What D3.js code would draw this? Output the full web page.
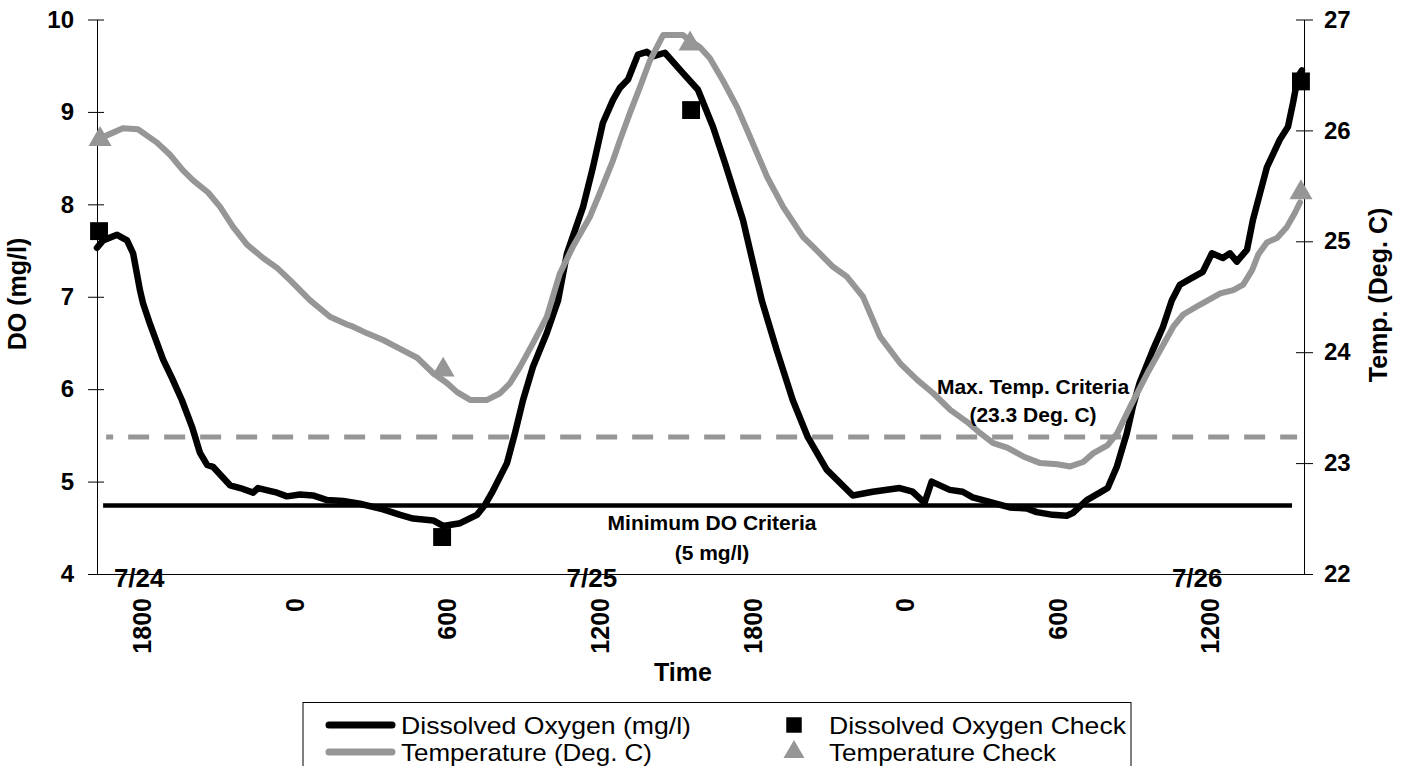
<!DOCTYPE html>
<html><head><meta charset="utf-8">
<script src="https://cdn.jsdelivr.net/npm/d3@7"></script>
<style>
body{margin:0;background:#fff}
svg{display:block}
text{font-family:"Liberation Sans",Arial,Helvetica,sans-serif}
</style>
</head><body>
<svg id="chart" width="1408" height="766"></svg>
<script>
// ---- data (hours since 7/24 00:00) ----
const doHours = [16.24,16.48,17.03,17.42,17.66,17.93,18.05,18.33,18.84,19.19,19.58,19.98,20.29,20.57,20.80,21.47,21.87,22.38,22.57,23.32,23.71,24.22,24.73,25.29,25.92,26.58,27.49,28.16,28.67,29.46,29.85,30.52,31.18,31.50,31.77,32.36,32.68,32.99,33.38,33.93,34.37,34.72,35.35,35.74,36.13,36.53,36.80,37.12,37.51,37.86,38.10,38.57,39.28,39.87,40.46,40.93,41.64,42.38,42.97,43.60,44.19,44.93,45.96,46.74,47.80,48.31,48.78,49.06,49.77,50.28,50.67,51.34,52.13,52.80,53.19,53.82,54.37,54.61,55.16,55.67,55.98,56.34,56.73,56.97,57.24,57.75,58.15,58.50,58.82,59.33,59.72,60.08,60.51,60.79,61.06,61.46,61.69,61.97,62.24,62.75,63.07,63.27,63.46,63.62];
const doValues = [7.53,7.61,7.67,7.61,7.47,7.07,6.93,6.70,6.32,6.12,5.88,5.59,5.31,5.18,5.16,4.96,4.93,4.88,4.93,4.88,4.84,4.86,4.85,4.80,4.79,4.76,4.70,4.64,4.60,4.58,4.52,4.55,4.64,4.75,4.88,5.20,5.53,5.88,6.24,6.61,6.96,7.47,7.97,8.40,8.88,9.13,9.26,9.35,9.62,9.65,9.60,9.64,9.42,9.24,8.84,8.45,7.83,6.96,6.42,5.88,5.48,5.13,4.85,4.89,4.93,4.89,4.77,5.00,4.91,4.89,4.83,4.78,4.72,4.71,4.67,4.64,4.63,4.66,4.80,4.88,4.93,5.16,5.52,5.81,6.07,6.42,6.67,6.96,7.13,7.21,7.27,7.47,7.42,7.47,7.38,7.51,7.83,8.12,8.40,8.70,8.84,9.10,9.38,9.45];
const tempHours = [16.36,16.87,17.26,17.85,18.60,19.11,19.62,20.02,20.61,21.08,21.59,22.14,22.77,23.32,23.83,24.61,25.40,26.07,26.31,26.86,27.49,28.16,28.83,29.46,30.01,30.40,30.91,31.58,32.09,32.48,32.88,33.38,33.93,34.44,34.95,35.62,36.02,36.53,36.80,37.20,37.59,37.98,38.50,39.28,39.56,39.95,40.34,40.85,41.41,41.92,42.59,43.22,44.00,44.40,45.18,45.73,46.36,47.03,47.82,48.49,49.12,49.79,50.46,50.97,51.48,52.03,52.66,53.33,54.00,54.51,55.02,55.42,55.97,56.36,56.87,57.54,58.05,58.56,58.95,59.62,60.41,60.92,61.31,61.66,61.90,62.24,62.64,63.03,63.35,63.54];
const tempValues = [25.93,25.98,26.02,26.01,25.89,25.78,25.64,25.55,25.44,25.31,25.13,24.97,24.85,24.76,24.65,24.47,24.32,24.25,24.23,24.17,24.11,24.03,23.95,23.81,23.72,23.64,23.57,23.57,23.63,23.72,23.87,24.08,24.32,24.71,24.95,25.22,25.44,25.73,25.91,26.16,26.39,26.63,26.86,26.86,26.81,26.75,26.65,26.45,26.21,25.94,25.58,25.31,25.04,24.95,24.77,24.68,24.50,24.14,23.90,23.75,23.63,23.48,23.37,23.27,23.18,23.14,23.06,23.00,22.99,22.97,23.01,23.09,23.16,23.27,23.51,23.81,24.02,24.23,24.34,24.43,24.53,24.56,24.61,24.74,24.88,24.99,25.03,25.13,25.26,25.35];
const doCheckHours = [16.32,29.81,39.60,63.58];
const doCheckValues = [7.71,4.40,9.02,9.33];
const tempCheckHours = [16.36,29.85,39.56,63.58];
const tempCheckValues = [25.92,23.84,26.78,25.44];
const doTicks = [4,5,6,7,8,9,10];
const tempTicks = [22,23,24,25,26,27];
const timeTickHours = [18,24,30,36,42,48,54,60];
const timeTickLabels = ["1800","0","600","1200","1800","0","600","1200"];
const dateHours = [17.9,35.7,59.5];
const dateLabels = ["7/24","7/25","7/26"];
const minDOLevel = 4.74;
const minDOHours = [16.48,63.23];
const maxTempLevel = 23.235;
const maxTempHours = [16.6,63.43];
const legendLabels = ["Dissolved Oxygen (mg/l)","Temperature (Deg. C)","Dissolved Oxygen Check","Temperature Check"];

// ---- layout ----
const svg = d3.select("#chart");
const L = 97, R = 1304, T = 19.5, B = 574;
const BLACK = "#000", GRAY = "#969696";
const FONT = '"Liberation Sans",Arial,sans-serif';

const x = d3.scaleLinear().domain([16.24, 63.70]).range([L, R]);
const yDO = d3.scaleLinear().domain([4, 10]).range([B, T]);
const yT = d3.scaleLinear().domain([22, 27]).range([B, T]);

// left axis
const gl = svg.append("g").attr("transform", `translate(${L},0)`)
  .call(d3.axisLeft(yDO).tickValues(doTicks).tickSizeInner(9).tickSizeOuter(0).tickPadding(14).tickFormat(d3.format("d")));
gl.selectAll(".tick").append("line").attr("x2", 7).attr("stroke", BLACK);
// right axis
const gr = svg.append("g").attr("transform", `translate(${R},0)`)
  .call(d3.axisRight(yT).tickValues(tempTicks).tickSizeInner(9).tickSizeOuter(0).tickPadding(11).tickFormat(d3.format("d")));
gr.selectAll(".tick").append("line").attr("x2", -8).attr("stroke", BLACK);
[gl, gr].forEach(g => {
  g.selectAll("path.domain").attr("stroke", BLACK).attr("stroke-width", 1);
  g.selectAll("text").attr("font-size", 24).attr("font-weight", "bold").attr("fill", BLACK)
   .attr("font-family", FONT);
});

// bottom axis
const gb = svg.append("g").attr("transform", `translate(0,${B})`)
  .call(d3.axisBottom(x).tickValues(timeTickHours).tickSize(0).tickFormat((d, i) => timeTickLabels[i]));
gb.select("path.domain").attr("stroke", BLACK).attr("stroke-width", 1);
gb.selectAll(".tick text")
  .attr("font-size", 25).attr("font-weight", "bold").attr("fill", BLACK)
  .attr("font-family", FONT)
  .attr("text-anchor", "end").attr("transform", "rotate(-90)")
  .attr("x", -24).attr("y", 0).attr("dy", "0.36em");

// date labels
svg.append("g").selectAll("text").data(dateLabels).join("text")
  .attr("x", (d, i) => x(dateHours[i])).attr("y", 587)
  .attr("text-anchor", "middle").attr("font-size", 26).attr("font-weight", "bold").text(d => d);

// axis titles
svg.append("text").attr("transform", `translate(26,294) rotate(-90)`).attr("text-anchor", "middle")
  .attr("font-size", 25).attr("font-weight", "bold").text("DO (mg/l)");
svg.append("text").attr("transform", `translate(1387,295) rotate(-90)`).attr("text-anchor", "middle")
  .attr("font-size", 25).attr("font-weight", "bold").text("Temp. (Deg. C)");
svg.append("text").attr("x", 683).attr("y", 681).attr("text-anchor", "middle")
  .attr("font-size", 25).attr("font-weight", "bold").text("Time");

// criteria lines
svg.append("line")
  .attr("x1", x(minDOHours[0])).attr("x2", x(minDOHours[1]))
  .attr("y1", yDO(minDOLevel)).attr("y2", yDO(minDOLevel))
  .attr("stroke", BLACK).attr("stroke-width", 4.5);
svg.append("line")
  .attr("x1", x(maxTempHours[0])).attr("x2", x(maxTempHours[1]))
  .attr("y1", yT(maxTempLevel)).attr("y2", yT(maxTempLevel))
  .attr("stroke", GRAY).attr("stroke-width", 5)
  .attr("stroke-dasharray", "21,15").attr("stroke-dashoffset", 14);

// series lines
const doData = doHours.map((h, i) => [h, doValues[i]]);
const tData = tempHours.map((h, i) => [h, tempValues[i]]);
svg.append("path").datum(doData)
  .attr("d", d3.line().x(d => x(d[0])).y(d => yDO(d[1])))
  .attr("fill", "none").attr("stroke", BLACK).attr("stroke-width", 6.5)
  .attr("stroke-linejoin", "round").attr("stroke-linecap", "round");
svg.append("path").datum(tData)
  .attr("d", d3.line().x(d => x(d[0])).y(d => yT(d[1])))
  .attr("fill", "none").attr("stroke", GRAY).attr("stroke-width", 6)
  .attr("stroke-linejoin", "round").attr("stroke-linecap", "round");

// check markers
const sq = d3.symbol().type(d3.symbolSquare).size(320);
const tri = d3.symbol().type(d3.symbolTriangle).size(230);
svg.append("g").selectAll("path").data(doCheckHours).join("path")
  .attr("d", sq).attr("fill", BLACK)
  .attr("transform", (d, i) => `translate(${x(d)},${yDO(doCheckValues[i])})`);
svg.append("g").selectAll("path").data(tempCheckHours).join("path")
  .attr("d", tri).attr("fill", GRAY)
  .attr("transform", (d, i) => `translate(${x(d)},${yT(tempCheckValues[i])})`);

// annotations
const ann = [
  {t: "Minimum DO Criteria", x: 712, y: 530},
  {t: "(5 mg/l)", x: 712, y: 560},
  {t: "Max. Temp. Criteria", x: 1033, y: 394},
  {t: "(23.3 Deg. C)", x: 1033, y: 422}
];
svg.append("g").selectAll("text").data(ann).join("text")
  .attr("x", d => d.x).attr("y", d => d.y).attr("text-anchor", "middle")
  .attr("font-size", 21).attr("font-weight", "bold").text(d => d.t);

// legend
const lg = svg.append("g");
lg.append("rect").attr("x", 303).attr("y", 702.5).attr("width", 828).attr("height", 90)
  .attr("fill", "#fff").attr("stroke", BLACK).attr("stroke-width", 1);
const legItems = [
  {kind: "line", c: BLACK, x: 326, y: 725, tx: 401, w: 290},
  {kind: "line", c: GRAY, x: 326, y: 752, tx: 401, w: 251},
  {kind: "sq", c: BLACK, x: 794, y: 725, tx: 829, w: 297},
  {kind: "tri", c: GRAY, x: 794, y: 752, tx: 829, w: 227}
];
legItems.forEach((it, i) => {
  if (it.kind === "line") {
    lg.append("line").attr("x1", it.x + 3).attr("x2", it.x + 66).attr("y1", it.y).attr("y2", it.y)
      .attr("stroke", it.c).attr("stroke-width", 7).attr("stroke-linecap", "round");
  } else {
    lg.append("path").attr("d", it.kind === "sq" ? d3.symbol().type(d3.symbolSquare).size(240)() : d3.symbol().type(d3.symbolTriangle).size(190)())
      .attr("fill", it.c).attr("transform", `translate(${it.x},${it.y})`);
  }
  lg.append("text").attr("x", it.tx).attr("y", it.y + 8.5).attr("font-size", 24)
    .attr("textLength", it.w).attr("lengthAdjust", "spacingAndGlyphs").text(legendLabels[i]);
});
</script>
</body></html>
